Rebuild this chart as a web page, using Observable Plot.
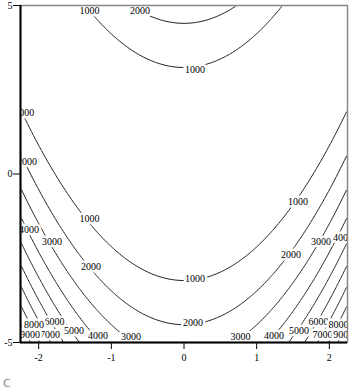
<!DOCTYPE html>
<html>
<head>
<meta charset="utf-8">
<script src="https://cdn.jsdelivr.net/npm/d3@7"></script>
<script src="https://cdn.jsdelivr.net/npm/@observablehq/plot@0.6"></script>
<style>
  html, body { margin: 0; padding: 0; background: #fff; }
  #wrap { position: relative; width: 350px; height: 392px; }
  #cap { position: absolute; left: 3px; top: 377px; font: 11px "DejaVu Sans", sans-serif; color: #888; }
</style>
</head>
<body>
<div id="wrap"><div id="chart"></div><div id="cap">C</div></div>
<script>
// Surface: Rosenbrock function f(x, y) = (a - x)^2 + b (y - x^2)^2
const rosenA = 1;
const rosenB = 100;
const xDomain = [-2.25, 2.25];
const yDomain = [-5, 5];
const thresholds = [1000, 2000, 3000, 4000, 5000, 6000, 7000, 8000, 9000];
const xTicks = [-2, -1, 0, 1, 2];
const yTicks = [-5, 0, 5];

// Contour labels (data coordinates)
const labelText = ["1000","2000","1000","1000","2000","1000","4000","3000","2000",
  "1000","2000","3000","3000",
  "4000","5000","6000","7000","8000","9000",
  "4000","5000","6000","7000","8000","9000",
  "1000","2000","3000","4000"];
const labelX = [-1.30,-0.606,0.151,-2.20,-2.16,-1.30,-2.133,-1.817,-1.28,
  0.151,0.124,-0.729,0.777,
  -1.183,-1.514,-1.782,-1.844,-2.064,-2.119,
  1.238,1.582,1.851,1.906,2.126,2.19,
  1.569,1.472,1.885,2.188];
const labelY = [4.85,4.85,3.10,1.83,0.35,-1.33,-1.66,-2.02,-2.745,
  -3.12,-4.43,-4.84,-4.84,
  -4.81,-4.66,-4.40,-4.76,-4.47,-4.76,
  -4.81,-4.66,-4.40,-4.76,-4.47,-4.76,
  -0.837,-2.40,-2.00,-1.90];
const labels = labelText.map((t, i) => ({x: labelX[i], y: labelY[i], t}));

const f = (x, y) => (rosenA - x) ** 2 + rosenB * (y - x * x) ** 2;

const chart = Plot.plot({
  width: 350,
  height: 370,
  marginLeft: 20,
  marginRight: 3,
  marginTop: 5,
  marginBottom: 28,
  style: { fontFamily: "Liberation Serif", fontSize: "10px", color: "#000", background: "#fff" },
  x: { domain: xDomain, ticks: xTicks, tickSize: 7, tickPadding: 4, tickFormat: d => String(d), label: null },
  y: { domain: yDomain, ticks: yTicks, tickSize: 7, tickPadding: 1, tickFormat: d => String(d), label: null },
  marks: [
    Plot.contour({
      value: f,
      x1: xDomain[0], x2: xDomain[1], y1: yDomain[0], y2: yDomain[1],
      thresholds,
      fill: "none",
      stroke: "#222",
      strokeWidth: 1
    }),
    Plot.text(labels, {
      x: "x", y: "y", text: "t",
      fill: "#000", stroke: "white", strokeWidth: 5,
      fontSize: 10, fontFamily: "Liberation Serif",
      clip: true
    }),
    Plot.frame({ stroke: "#888", strokeWidth: 1.5 }),
    Plot.ruleX([xDomain[0]], { stroke: "#000", strokeWidth: 2 }),
    Plot.ruleY([yDomain[0]], { stroke: "#000", strokeWidth: 2 })
  ]
});
document.getElementById("chart").appendChild(chart);
</script>
</body>
</html>
